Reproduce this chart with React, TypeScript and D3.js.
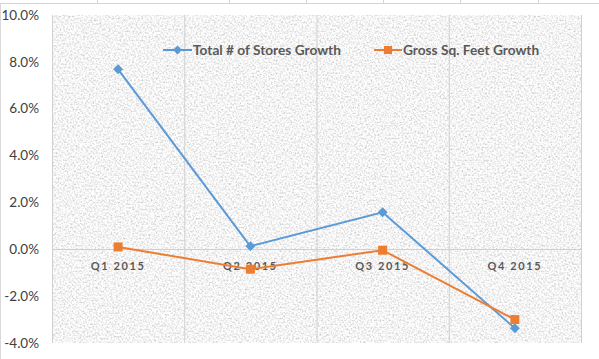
import React from "react";
import * as d3 from "d3";

const categories = ["Q1 2015", "Q2 2015", "Q3 2015", "Q4 2015"];
const storesGrowth = [7.68, 0.13, 1.58, -3.37];
const sqFeetGrowth = [0.1, -0.85, -0.04, -3.0];
const yTicks = [-4, -2, 0, 2, 4, 6, 8, 10];
const seriesNames = ["Total # of Stores Growth", "Gross Sq. Feet Growth"];

const W = 599;
const H = 359;
const plot = { left: 52, right: 581, top: 15, bottom: 343 };
const BLUE = "#5B9BD5";
const ORANGE = "#ED7D31";

export default function App() {
  const x = d3
    .scaleBand<string>()
    .domain(categories)
    .range([plot.left, plot.right])
    .padding(0);
  const y = d3.scaleLinear().domain([-4, 10]).range([plot.bottom, plot.top]);
  const cx = (c: string) => (x(c) as number) + x.bandwidth() / 2;
  const line = d3
    .line<number>()
    .x((_, i) => cx(categories[i]))
    .y((d) => y(d));

  const boundaries = categories.map((c) => x(c) as number).concat([plot.right]);
  const cellLines = [97, 229, 306, 383, 460, 538];
  const font = "Lato, 'Open Sans', 'DejaVu Sans', sans-serif";

  return (
    <svg
      width={W}
      height={H}
      style={{ position: "absolute", left: 0, top: 0, background: "#fff" }}
      fontFamily={font}
    >
      <defs>
        <filter id="granite" x="0" y="0" width="100%" height="100%">
          <feTurbulence type="fractalNoise" baseFrequency="0.55" numOctaves="3" seed="7" result="n" />
          <feColorMatrix
            in="n"
            type="matrix"
            values="0.85 0 0 0 0.48  0.85 0 0 0 0.48  0.85 0 0 0 0.48  0 0 0 0 1"
          />
        </filter>
      </defs>
      {/* sheet cell lines above the chart */}
      <line x1={0} x2={W} y1={3.5} y2={3.5} stroke="#d4d4d4" />
      {cellLines.map((cx0) => (
        <line key={cx0} x1={cx0 + 0.5} x2={cx0 + 0.5} y1={0} y2={3.5} stroke="#d4d4d4" />
      ))}
      <line x1={0.5} x2={0.5} y1={3.5} y2={H} stroke="#d9d9d9" />
      {/* plot area */}
      <rect
        x={plot.left}
        y={plot.top}
        width={plot.right - plot.left}
        height={plot.bottom - plot.top}
        filter="url(#granite)"
      />
      {boundaries.map((bx, i) => (
        <line
          key={i}
          x1={bx + 0.5}
          x2={bx + 0.5}
          y1={plot.top}
          y2={plot.bottom}
          stroke="#d0d0d0"
          strokeWidth={1}
        />
      ))}
      <line
        x1={plot.left}
        x2={plot.right}
        y1={Math.round(y(0)) + 0.5}
        y2={Math.round(y(0)) + 0.5}
        stroke="#d0d0d0"
      />
      {/* y axis labels */}
      {yTicks.map((t) => (
        <text
          key={t}
          x={39}
          y={y(t)}
          dy="0.35em"
          textAnchor="end"
          fontSize={13.5}
          fill="#404040"
        >
          {t.toFixed(1) + "%"}
        </text>
      ))}
      {/* category labels */}
      {categories.map((c) => (
        <text
          key={c}
          x={cx(c)}
          y={y(0) + 21}
          textAnchor="middle"
          fontSize={11}
          fontWeight="bold"
          letterSpacing={1.6}
          fill="#595959"
        >
          {c}
        </text>
      ))}
      {/* lines */}
      <path d={line(storesGrowth) || ""} fill="none" stroke={BLUE} strokeWidth={2} />
      <path d={line(sqFeetGrowth) || ""} fill="none" stroke={ORANGE} strokeWidth={2} />
      {storesGrowth.map((v, i) => {
        const px = cx(categories[i]);
        const py = y(v);
        return (
          <path
            key={"b" + i}
            d={`M${px},${py - 5}L${px + 5},${py}L${px},${py + 5}L${px - 5},${py}Z`}
            fill={BLUE}
          />
        );
      })}
      {sqFeetGrowth.map((v, i) => {
        const px = cx(categories[i]);
        const py = y(v);
        return <rect key={"o" + i} x={px - 4.5} y={py - 4.5} width={9} height={9} fill={ORANGE} />;
      })}
      {/* legend */}
      <g>
        <line x1={163} x2={192} y1={50} y2={50} stroke={BLUE} strokeWidth={2} />
        <path d={`M177.5,45.5L182,50L177.5,54.5L173,50Z`} fill={BLUE} />
        <text x={193} y={50} dy="0.35em" fontSize={13.7} fontWeight="bold" fill="#595959">
          {seriesNames[0]}
        </text>
        <line x1={374} x2={402} y1={50} y2={50} stroke={ORANGE} strokeWidth={2} />
        <rect x={384} y={46} width={8} height={8} fill={ORANGE} />
        <text x={403} y={50} dy="0.35em" fontSize={13.7} fontWeight="bold" fill="#595959">
          {seriesNames[1]}
        </text>
      </g>
    </svg>
  );
}
